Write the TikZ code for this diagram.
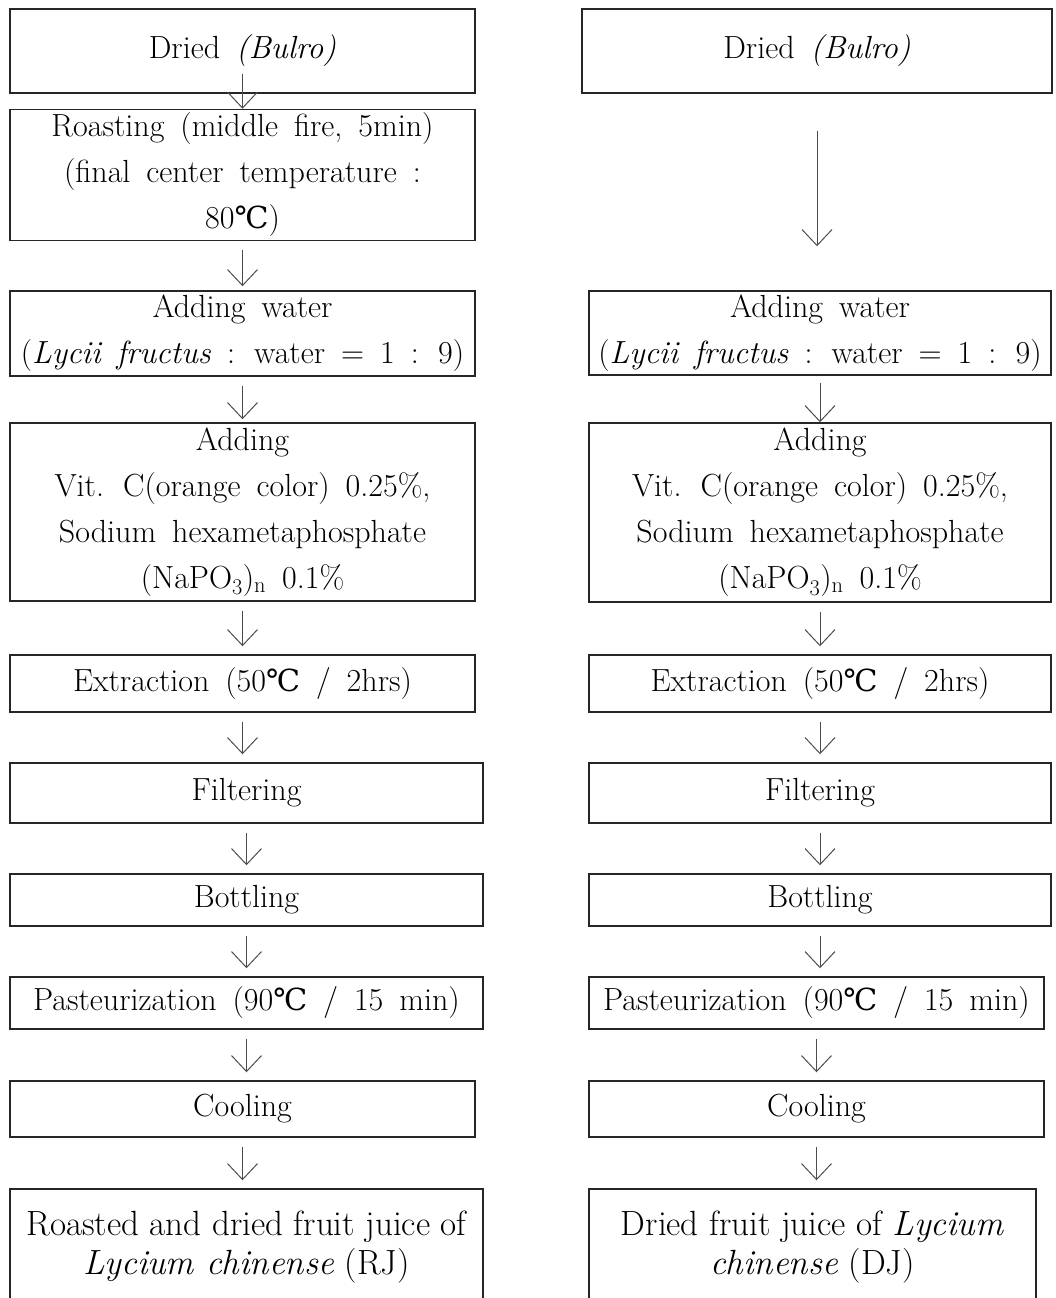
\documentclass[tikz,border=0pt]{standalone}
\usepackage{fontspec}
\newfontfamily\degfont[Scale=0.95]{DejaVu Serif}
\usetikzlibrary{arrows.meta}
\newcommand{\degC}{{\degfont ℃}}
\newcommand{\widespace}{\spaceskip 0.5em\relax}
\tikzset{
  stage/.style={draw=black!85, line width=1.5pt, align=center, inner sep=0pt,
    font={\fontsize{32}{46}\selectfont\widespace}},
  product/.style={draw=black!85, line width=1.5pt, align=center, inner sep=0pt,
    font={\fontsize{35}{39}\selectfont}},
  flow/.style={draw=black!70, line width=1pt, -{Straight Barb[length=16pt,width=30pt]},
    shorten <=9pt, shorten >=8pt}
}
\begin{document}
\begin{tikzpicture}[x=1pt,y=-1pt]
\useasboundingbox (0,0) rectangle (1055,1298);
\clip (0,0) rectangle (1055,1298);

% left column: roasted and dried
\node[stage, minimum width=465pt, minimum height=84pt] (dryL) at (242.5,51) {Dried \textit{(Bulro)}};
\node[stage, minimum width=465pt, minimum height=131pt] (roastL) at (242.5,175)
  {Roasting (middle fire, 5min)\\(final center temperature :\\80\degC)};
\node[stage, minimum width=465pt, minimum height=85pt] (waterL) at (242.5,333.5)
  {Adding water\\(\textit{Lycii fructus} : water = 1 : 9)};
\node[stage, minimum width=465pt, minimum height=178pt] (addL) at (242.5,512)
  {Adding\\Vit. C(orange color) 0.25\%,\\Sodium hexametaphosphate\\(NaPO\textsubscript{3})\textsubscript{n} 0.1\%};
\node[stage, minimum width=465pt, minimum height=57pt] (extL) at (242.5,683.5) {Extraction (50\degC{} / 2hrs)};
\node[stage, minimum width=473pt, minimum height=60pt] (filtL) at (246.5,793) {Filtering};
\node[stage, minimum width=473pt, minimum height=52pt] (botL) at (246.5,900) {Bottling};
\node[stage, minimum width=473pt, minimum height=52pt] (pastL) at (246.5,1003) {Pasteurization (90\degC{} / 15 min)};
\node[stage, minimum width=465pt, minimum height=56pt] (coolL) at (242.5,1109) {Cooling};
\node[product, minimum width=473pt, minimum height=116pt] (finL) at (246.5,1247)
  {Roasted and dried fruit juice of\\\textit{Lycium chinense} (RJ)};

% right column: dried only
\node[stage, minimum width=470pt, minimum height=84pt] (dryR) at (817,51) {Dried \textit{(Bulro)}};
\node[stage, minimum width=462pt, minimum height=84pt] (waterR) at (820,333)
  {Adding water\\(\textit{Lycii fructus} : water = 1 : 9)};
\node[stage, minimum width=462pt, minimum height=179pt] (addR) at (820,512.5)
  {Adding\\Vit. C(orange color) 0.25\%,\\Sodium hexametaphosphate\\(NaPO\textsubscript{3})\textsubscript{n} 0.1\%};
\node[stage, minimum width=462pt, minimum height=57pt] (extR) at (820,683.5) {Extraction (50\degC{} / 2hrs)};
\node[stage, minimum width=462pt, minimum height=60pt] (filtR) at (820,793) {Filtering};
\node[stage, minimum width=462pt, minimum height=52pt] (botR) at (820,900) {Bottling};
\node[stage, minimum width=455pt, minimum height=52pt] (pastR) at (816.5,1003) {Pasteurization (90\degC{} / 15 min)};
\node[stage, minimum width=455pt, minimum height=56pt] (coolR) at (816.5,1109) {Cooling};
\node[product, minimum width=447pt, minimum height=116pt] (finR) at (812.5,1247)
  {Dried fruit juice of \textit{Lycium}\\\textit{chinense} (DJ)};

% arrows
\draw[flow, shorten <=-20pt, shorten >=0pt] (dryL.south) -- (dryL.south |- roastL.north);
\draw[flow, shorten >=4pt] (roastL.south) -- (roastL.south |- waterL.north);
\draw[flow, shorten >=3pt] (waterL.south) -- (waterL.south |- addL.north);
\draw[flow] (addL.south) -- (addL.south |- extL.north);
\draw[flow] (extL.south) -- (extL.south |- filtL.north);
\draw[flow] (filtL.south) -- (filtL.south |- botL.north);
\draw[flow] (botL.south) -- (botL.south |- pastL.north);
\draw[flow] (pastL.south) -- (pastL.south |- coolL.north);
\draw[flow] (coolL.south) -- (coolL.south |- finL.north);

\draw[flow, shorten <=37pt, shorten >=44pt] (dryR.south) -- (dryR.south |- waterR.north);
\draw[flow, shorten <=7pt, shorten >=0pt] (waterR.south) -- (waterR.south |- addR.north);
\draw[flow] (addR.south) -- (addR.south |- extR.north);
\draw[flow] (extR.south) -- (extR.south |- filtR.north);
\draw[flow] (filtR.south) -- (filtR.south |- botR.north);
\draw[flow] (botR.south) -- (botR.south |- pastR.north);
\draw[flow] (pastR.south) -- (pastR.south |- coolR.north);
\draw[flow] (coolR.south) -- (coolR.south |- finR.north);
\end{tikzpicture}
\end{document}
